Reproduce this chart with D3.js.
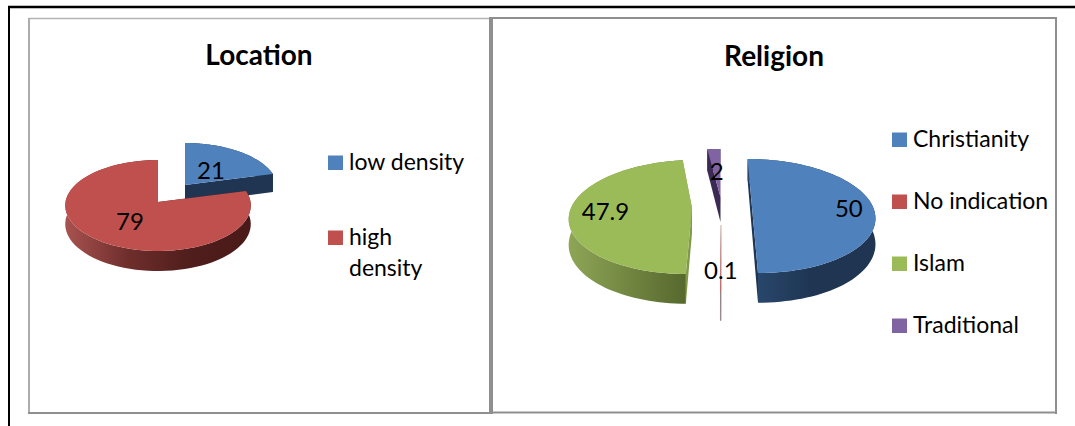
<!DOCTYPE html>
<html>
<head>
<meta charset="utf-8">
<script src="https://cdn.jsdelivr.net/npm/d3@7"></script>
<style>
  html, body { margin: 0; padding: 0; background: #fff; overflow: hidden; }
  text { font-family: Lato, "Open Sans", sans-serif; fill: #000; }
</style>
</head>
<body>
<div class="chart"></div>
<script>
// values
var locationLabels = ['low density', 'high density'];
var locationValues = [21, 79];
var religionLabels = ['Christianity', 'No indication', 'Islam', 'Traditional'];
var religionValues = [50, 0.1, 47.9, 2];

var topColors = {blue: '#4f81bd', red: '#c0504d', green: '#9bbb59', purple: '#8064a2'};

var svg = d3.select('.chart')
    .append('svg')
    .attr('width', 1075)
    .attr('height', 426)
    .style('display', 'block');

var defs = svg.append('defs');

// page rules and the two chart frames
function rule(x1, y1, x2, y2, color, w) {
    svg.append('line')
        .attr('x1', x1).attr('y1', y1).attr('x2', x2).attr('y2', y2)
        .attr('stroke', color).attr('stroke-width', w);
}
rule(8, 7, 1075, 7, '#000', 2.4);
rule(9, 6, 9, 426, '#000', 2);
rule(29, 18.5, 490, 18.5, '#b4b4b4', 1.6);
rule(29, 18, 29, 414, '#adadad', 2);
rule(28, 413, 491, 413, '#8f8f8f', 2);
rule(491, 17, 491, 414, '#8f8f8f', 4);
rule(491, 18, 1057, 18, '#8f8f8f', 2);
rule(1056, 17, 1056, 414, '#8f8f8f', 2);
rule(491, 412.6, 1057, 412.6, '#8f8f8f', 2);

// perspective projection of a point on the pie disc
function projector(view, ox, oy) {
    return function (r, a, down) {
        var t = -Math.cos(a) * r;
        var s = 1 / (1 - view.k * t);
        var x = ox + (view.vx === null ? 0 : (ox - view.vx) * (s - 1)) + view.rx * r * Math.sin(a) * s;
        var y = oy + view.ry * t * s + (down ? view.depth * s : 0);
        return [x, y];
    };
}

function drawPie(id, values, view, slices) {
    var arcs = d3.pie().sort(null).startAngle(0).endAngle(2 * Math.PI)(values);
    var line = d3.line();
    var g = svg.append('g').attr('class', id);

    view.order.forEach(function (i) {
        var d = arcs[i], st = slices[i];
        var p = projector(view, st.ox, st.oy);
        var angles = d3.range(81).map(function (n) {
            return d.startAngle + (d.endAngle - d.startAngle) * n / 80;
        });
        var topArc = angles.map(function (a) { return p(1, a, false); });
        var lowArc = angles.map(function (a) { return p(1, a, true); });
        var xs = d3.extent(topArc, function (q) { return q[0]; });

        var gradId = id + '-wall-' + i;
        var grad = defs.append('linearGradient')
            .attr('id', gradId)
            .attr('gradientUnits', 'userSpaceOnUse')
            .attr('x1', xs[0]).attr('x2', xs[1])
            .attr('y1', 0).attr('y2', 0);
        st.wall.forEach(function (c, n) {
            grad.append('stop')
                .attr('offset', st.wall.length > 1 ? n / (st.wall.length - 1) : 0)
                .attr('stop-color', c);
        });

        // cut faces first, then the rim, then the lid
        [d.startAngle, d.endAngle].forEach(function (a) {
            g.append('path')
                .attr('d', line([p(0, a, false), p(1, a, false), p(1, a, true), p(0, a, true)]) + 'Z')
                .attr('fill', st.cut)
                .attr('stroke', st.cut)
                .attr('stroke-width', st.stroke || 0);
        });
        g.append('path')
            .attr('d', line(topArc.concat(lowArc.slice().reverse())) + 'Z')
            .attr('fill', 'url(#' + gradId + ')');
        g.append('path')
            .attr('d', line([p(0, d.startAngle, false)].concat(topArc)) + 'Z')
            .attr('fill', st.color)
            .attr('stroke', st.color)
            .attr('stroke-width', st.stroke || 0);
    });

    // value labels go on top of every slice
    arcs.forEach(function (d, i) {
        var st = slices[i];
        var q = projector(view, st.ox, st.oy)(st.labelR, (d.startAngle + d.endAngle) / 2, false);
        g.append('text')
            .attr('x', q[0])
            .attr('y', q[1] + 10)
            .attr('text-anchor', 'middle')
            .style('font-size', '24px')
            .text(d.value);
    });
}

function legend(labels, colors, x, ys, lines) {
    labels.forEach(function (name, i) {
        svg.append('rect')
            .attr('x', x).attr('y', ys[i] - 14.5)
            .attr('width', 15).attr('height', 14.5)
            .attr('fill', colors[i]);
        var t = svg.append('text')
            .attr('x', x + 21).attr('y', ys[i])
            .style('font-size', '23px');
        (lines ? lines[i] : [name]).forEach(function (part, n) {
            t.append('tspan').attr('x', x + 21).attr('dy', n ? 31 : 0).text(part);
        });
    });
}

function title(text, x, y) {
    svg.append('text')
        .attr('x', x).attr('y', y)
        .attr('text-anchor', 'middle')
        .style('font-size', '28px')
        .style('font-weight', 700)
        .text(text);
}

title('Location', 259, 65);
drawPie('location', locationValues,
    {rx: 92.5, ry: 45.2, k: 0.077, depth: 18.5, vx: null, order: [0, 1]},
    [
        {ox: 185, oy: 185, labelR: 0.47, color: topColors.blue, cut: '#1f3552', wall: ['#1f3552']},
        {ox: 158, oy: 202, labelR: 0.48, color: topColors.red, cut: '#4a1a18',
            wall: ['#a85350', '#6f2e2c', '#501e1c', '#4a1a18']}
    ]);
legend(locationLabels, [topColors.blue, topColors.red], 328, [170, 245],
    [[locationLabels[0]], ['high', 'density']]);

title('Religion', 774, 66);
drawPie('religion', religionValues,
    {rx: 121, ry: 55.6, k: 0.158, depth: 25, vx: 720, order: [3, 0, 2, 1]},
    [
        {ox: 752, oy: 207, labelR: 0.8, color: topColors.blue, cut: '#1f3552', wall: ['#2a4a70', '#1f3552', '#1f3552']},
        {ox: 721, oy: 225, labelR: 0.71, color: topColors.red, cut: '#8a7070', wall: ['#7a6a6a'], stroke: 0.1},
        {ox: 692, oy: 208, labelR: 0.71, color: topColors.green, cut: '#82994a', wall: ['#8ea556', '#57682d']},
        {ox: 720.5, oy: 197, labelR: 0.52, color: topColors.purple, cut: '#3a2a55', wall: ['#3a2a55']}
    ]);
legend(religionLabels, [topColors.blue, topColors.red, topColors.green, topColors.purple],
    892, [147, 209, 271, 333]);
</script>
</body>
</html>
